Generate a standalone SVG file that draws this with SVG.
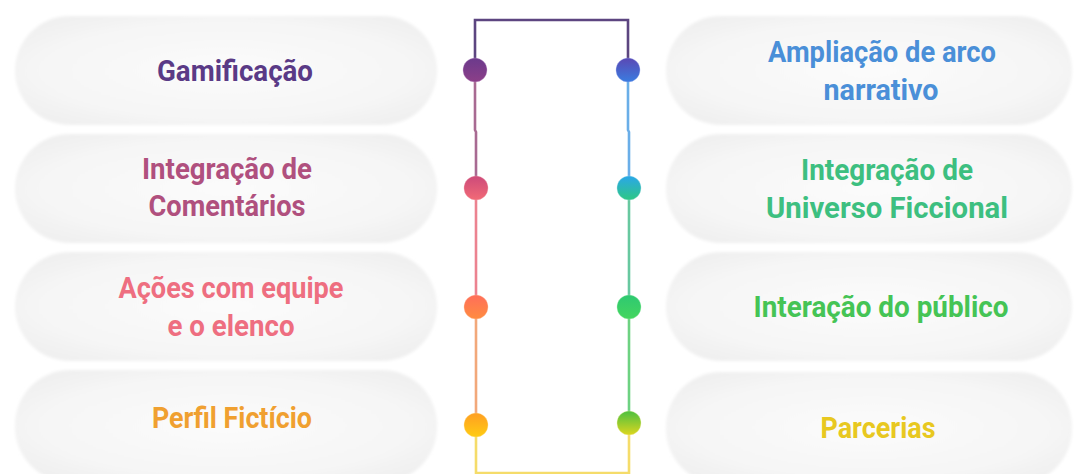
<svg xmlns="http://www.w3.org/2000/svg" width="1074" height="474" viewBox="0 0 1074 474">
<defs>
<radialGradient id="pillFill" cx="0.5" cy="0.5" r="0.6">
<stop offset="0" stop-color="#fbfbfb"/>
<stop offset="0.7" stop-color="#f6f6f6"/>
<stop offset="1" stop-color="#f0f0f0"/>
</radialGradient>
<filter id="soft" x="-5%" y="-10%" width="110%" height="120%">
<feGaussianBlur stdDeviation="1.6"/>
</filter>
<linearGradient id="gL1" x1="0" y1="0" x2="0" y2="1"><stop offset="0" stop-color="#6b3a8c"/><stop offset="1" stop-color="#8c3f88"/></linearGradient>
<linearGradient id="gL2" x1="0" y1="0" x2="0" y2="1"><stop offset="0" stop-color="#cc4a7a"/><stop offset="1" stop-color="#f26a76"/></linearGradient>
<linearGradient id="gL3" x1="0" y1="0" x2="0" y2="1"><stop offset="0" stop-color="#ff6e5a"/><stop offset="1" stop-color="#ff8c40"/></linearGradient>
<linearGradient id="gL4" x1="0" y1="0" x2="0" y2="1"><stop offset="0" stop-color="#ff9e22"/><stop offset="1" stop-color="#ffcc12"/></linearGradient>
<linearGradient id="gR1" x1="0" y1="0" x2="0" y2="1"><stop offset="0" stop-color="#5a48b4"/><stop offset="1" stop-color="#3a7ce0"/></linearGradient>
<linearGradient id="gR2" x1="0" y1="0" x2="0" y2="1"><stop offset="0" stop-color="#2aa6ea"/><stop offset="1" stop-color="#2ec884"/></linearGradient>
<linearGradient id="gR3" x1="0" y1="0" x2="0" y2="1"><stop offset="0" stop-color="#2ec872"/><stop offset="1" stop-color="#44d65e"/></linearGradient>
<linearGradient id="gR4" x1="0" y1="0" x2="0" y2="1"><stop offset="0" stop-color="#4cc040"/><stop offset="1" stop-color="#dcd61e"/></linearGradient>
</defs>
<style>
.pill{fill:url(#pillFill);filter:url(#soft);}
.lbl{font-family:"Roboto","Liberation Sans",sans-serif;font-weight:700;font-size:30px;text-anchor:middle;}
.ln{fill:none;stroke-width:2.6;stroke-linejoin:miter;}
.dot{stroke-width:1;stroke-opacity:0.35;}
</style>
<rect width="1074" height="474" fill="#ffffff"/>

<g id="connectors">
<path class="ln" stroke="#5c4580" d="M475,70 V20 H628 V70"/>
<path class="ln" stroke="#a86a92" d="M475,70 V130 L476,132 V188"/>
<path class="ln" stroke="#ec8290" d="M476,188 V307"/>
<path class="ln" stroke="#f2a87a" d="M476,307 V425"/>
<path class="ln" stroke="#f5dc6a" d="M476,425 V473 H629 V425"/>
<path class="ln" stroke="#6aaee8" d="M628,70 V130 L629,132 V188"/>
<path class="ln" stroke="#68c8a0" d="M629,188 V307"/>
<path class="ln" stroke="#6ed282" d="M629,307 V425"/>
</g>

<g id="node-gamificacao">
<rect class="pill" x="15" y="16" width="422" height="109" rx="54.5"/>
<text class="lbl" x="235" y="81" fill="#5a3a86" textLength="156" lengthAdjust="spacingAndGlyphs">Gamificação</text>
<circle class="dot" cx="475" cy="70" r="12" fill="url(#gL1)" stroke="#c9a0d0"/>
</g>
<g id="node-comentarios">
<rect class="pill" x="15" y="134" width="422" height="109" rx="54.5"/>
<text class="lbl" x="227" y="179" fill="#b0507e" textLength="170" lengthAdjust="spacingAndGlyphs">Integração de</text>
<text class="lbl" x="227" y="216" fill="#b0507e" textLength="157" lengthAdjust="spacingAndGlyphs">Comentários</text>
<circle class="dot" cx="476" cy="188" r="12" fill="url(#gL2)" stroke="#f0a0b0"/>
</g>
<g id="node-acoes">
<rect class="pill" x="15" y="252" width="422" height="109" rx="54.5"/>
<text class="lbl" x="231" y="298" fill="#ee6e80" textLength="225" lengthAdjust="spacingAndGlyphs">Ações com equipe</text>
<text class="lbl" x="231" y="336" fill="#ee6e80" textLength="127" lengthAdjust="spacingAndGlyphs">e o elenco</text>
<circle class="dot" cx="476" cy="307" r="12" fill="url(#gL3)" stroke="#ffc0a0"/>
</g>
<g id="node-perfil">
<rect class="pill" x="15" y="370" width="422" height="112" rx="55"/>
<text class="lbl" x="232" y="428" fill="#f0a030" textLength="160" lengthAdjust="spacingAndGlyphs">Perfil Fictício</text>
<circle class="dot" cx="476" cy="425" r="12" fill="url(#gL4)" stroke="#ffe090"/>
</g>

<g id="node-ampliacao">
<rect class="pill" x="666" y="16" width="406" height="109" rx="54.5"/>
<text class="lbl" x="882" y="62" fill="#4a8fd8" textLength="228" lengthAdjust="spacingAndGlyphs">Ampliação de arco</text>
<text class="lbl" x="881" y="100" fill="#4a8fd8" textLength="115" lengthAdjust="spacingAndGlyphs">narrativo</text>
<circle class="dot" cx="628" cy="70" r="12" fill="url(#gR1)" stroke="#a0b0f0"/>
</g>
<g id="node-universo">
<rect class="pill" x="666" y="134" width="406" height="109" rx="54.5"/>
<text class="lbl" x="887" y="180" fill="#3dbf80" textLength="172" lengthAdjust="spacingAndGlyphs">Integração de</text>
<text class="lbl" x="887" y="218" fill="#3dbf80" textLength="242" lengthAdjust="spacingAndGlyphs">Universo Ficcional</text>
<circle class="dot" cx="629" cy="188" r="12" fill="url(#gR2)" stroke="#a0e0e0"/>
</g>
<g id="node-interacao">
<rect class="pill" x="666" y="252" width="406" height="109" rx="54.5"/>
<text class="lbl" x="881" y="317" fill="#45c455" textLength="255" lengthAdjust="spacingAndGlyphs">Interação do público</text>
<circle class="dot" cx="629" cy="307" r="12" fill="url(#gR3)" stroke="#a0f0b0"/>
</g>
<g id="node-parcerias">
<rect class="pill" x="666" y="372" width="406" height="112" rx="55"/>
<text class="lbl" x="878" y="438" fill="#e8c820" textLength="115" lengthAdjust="spacingAndGlyphs">Parcerias</text>
<circle class="dot" cx="629" cy="423" r="12" fill="url(#gR4)" stroke="#f0f0a0"/>
</g>
</svg>
